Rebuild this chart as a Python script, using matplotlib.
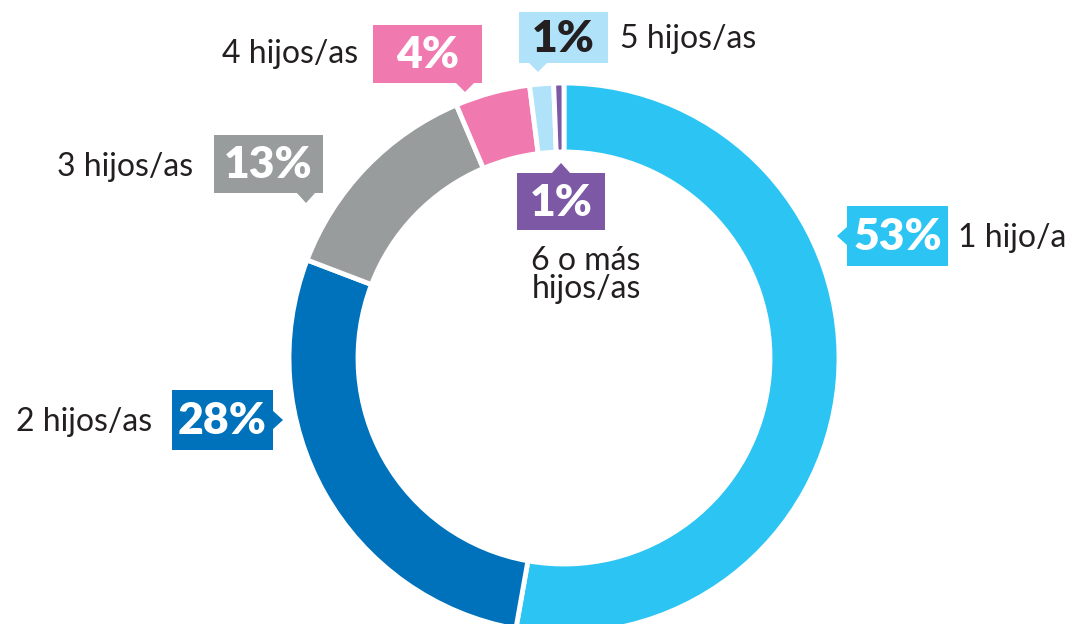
import matplotlib
matplotlib.use("Agg")
import matplotlib.pyplot as plt
from matplotlib.patches import Rectangle, Polygon

plt.rcParams['font.family'] = ['Lato', 'DejaVu Sans']

# data
categorias = ['1 hijo/a', '2 hijos/as', '3 hijos/as', '4 hijos/as', '5 hijos/as', '6 o más\nhijos/as']
valores = [52.8, 28.0, 12.8, 4.4, 1.4, 0.6]
etiquetas = ['53%', '28%', '13%', '4%', '1%', '1%']
colores = ['#2BC4F3', '#0072BC', '#999C9C', '#F07AB0', '#B0E2F9', '#7D58A5']
color_txt_pct = ['white', 'white', 'white', 'white', '#231F20', 'white']

W, H = 1070, 624
fig = plt.figure(figsize=(W / 100, H / 100), dpi=100)
ax = fig.add_axes([0, 0, 1, 1])

cx, cy, R = 564, H - 358, 275
ax.pie(valores, colors=colores, startangle=90, counterclock=False,
       center=(cx, cy), radius=R, frame=True,
       wedgeprops=dict(width=69, edgecolor='white', linewidth=3.5))
ax.set_xlim(0, W)
ax.set_ylim(0, H)
ax.set_aspect('equal')
ax.axis('off')

# box (x0, y0, x1, y1 from top), pointer side, pointer pos, tip
cajas = [
    (847, 206, 948, 266, 'left', 236, 837),
    (172, 390, 273, 450, 'right', 420, 283),
    (214, 135, 323, 193, 'down', 306, 203),
    (373, 25, 482, 83, 'down', 465, 92),
    (519, 12, 608, 63, 'down', 538, 72),
    (517, 173, 605, 230, 'up', 561, 163),
]
# category label position (x, y from top, ha)
pos_lbl = [(958, 238, 'left'), (152, 422, 'right'), (193, 167, 'right'),
           (358, 54, 'right'), (620, 39, 'left'), (586, 275, 'center')]

for i, (x0, y0, x1, y1, lado, p, tip) in enumerate(cajas):
    c = colores[i]
    ax.add_patch(Rectangle((x0, H - y1), x1 - x0, y1 - y0, color=c, lw=0))
    s = 10
    if lado == 'left':
        tri = [(x0 + 1, H - p + s), (tip, H - p), (x0 + 1, H - p - s)]
    elif lado == 'right':
        tri = [(x1 - 1, H - p + s), (tip, H - p), (x1 - 1, H - p - s)]
    elif lado == 'down':
        tri = [(p - s, H - y1 + 1), (p, H - tip), (p + s, H - y1 + 1)]
    else:
        tri = [(p - s, H - y0 - 1), (p, H - tip), (p + s, H - y0 - 1)]
    ax.add_patch(Polygon(tri, closed=True, color=c, lw=0))
    ax.text((x0 + x1) / 2, H - (y0 + y1) / 2 - 1, etiquetas[i], color=color_txt_pct[i],
            fontsize=32, fontweight='heavy', ha='center', va='center')
    lx, ly, ha = pos_lbl[i]
    ax.text(lx, H - ly, categorias[i], color='#231F20', fontsize=23,
            ha=ha, va='center', linespacing=0.95)

fig.savefig('out.png', dpi=100)
